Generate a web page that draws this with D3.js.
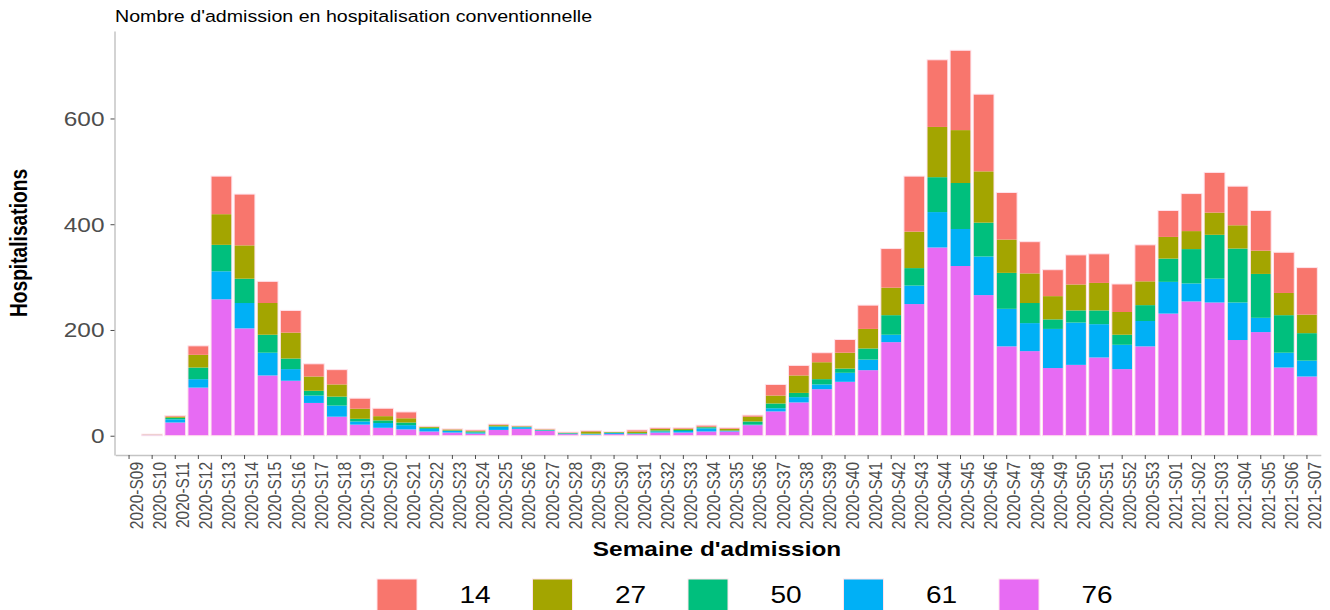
<!DOCTYPE html>
<html>
<head>
<meta charset="utf-8">
<script src="https://cdn.jsdelivr.net/npm/d3@7"></script>
<style>
  body { margin: 0; background: #fff; }
  text { font-family: "Liberation Sans", Arial, sans-serif; }
</style>
</head>
<body>
<script>
// weeks on the x axis
var weeks = ["2020-S09","2020-S10","2020-S11","2020-S12","2020-S13","2020-S14","2020-S15","2020-S16",
  "2020-S17","2020-S18","2020-S19","2020-S20","2020-S21","2020-S22","2020-S23","2020-S24","2020-S25",
  "2020-S26","2020-S27","2020-S28","2020-S29","2020-S30","2020-S31","2020-S32","2020-S33","2020-S34",
  "2020-S35","2020-S36","2020-S37","2020-S38","2020-S39","2020-S40","2020-S41","2020-S42","2020-S43",
  "2020-S44","2020-S45","2020-S46","2020-S47","2020-S48","2020-S49","2020-S50","2020-S51","2020-S52",
  "2020-S53","2021-S01","2021-S02","2021-S03","2021-S04","2021-S05","2021-S06","2021-S07"];

// admissions per departement
var d76 = [0,1,25,91,258,203,114,104,62,36,21,15,12,8,6,4,11,13,9,3,2,3,3,6,6,8,8,20,46,63,88,102,124,177,249,356,321,266,169,160,128,134,148,126,169,231,254,252,181,196,129,112];
var d61 = [0,0,6,16,53,48,43,22,14,21,6,9,8,5,3,2,6,3,1,1,1,2,1,2,3,6,1,1,6,10,9,17,20,14,35,67,70,73,71,53,74,80,63,46,48,60,34,45,71,27,28,30];
var d50 = [0,1,3,22,50,46,34,20,9,17,5,5,5,2,1,2,1,1,1,1,1,1,1,2,2,2,1,6,9,8,10,8,21,37,33,66,87,64,68,38,18,23,26,19,30,44,65,83,102,83,71,52];
var d27 = [0,0,2,24,58,63,60,49,27,23,19,8,8,2,2,1,2,1,1,1,4,1,3,3,2,1,3,9,15,33,32,30,37,52,69,95,100,97,63,56,44,49,52,43,45,41,34,42,44,44,42,35];
var d14 = [0,1,2,17,72,97,41,42,24,28,20,15,12,1,1,2,2,1,1,1,2,1,3,2,2,3,2,3,21,19,18,25,45,74,105,127,151,146,89,60,50,56,55,53,69,50,71,76,74,76,77,89];

var groups = ["14", "27", "50", "61", "76"];
var colours = ["#F8766D", "#A3A500", "#00BF7D", "#00B0F6", "#E76BF3"];
var yTicks = [0, 200, 400, 600];

var SX = 1.22; // picture is a little wider than tall

var rows = weeks.map(function(w, i) {
  return {week: w, "76": d76[i], "61": d61[i], "50": d50[i], "27": d27[i], "14": d14[i]};
});
var totals = rows.map(function(r) { return r["76"] + r["61"] + r["50"] + r["27"] + r["14"]; });

var colour = d3.scaleOrdinal().domain(groups).range(colours);

var svg = d3.select("body").append("svg")
            .attr("width", 1330)
            .attr("height", 610);
svg.append("rect").attr("width", 1330).attr("height", 610).attr("fill", "#fff");

var x = d3.scaleBand().domain(weeks)
          .range([115.2, 1320.8])
          .paddingInner(0.1)
          .paddingOuter(0.15);
var yMax = d3.max(totals);
var y = d3.scaleLinear().domain([-0.05 * yMax, 1.05 * yMax]).range([455, 31]);

// stacked bars, 76 at the bottom
var stack = d3.stack().keys(["76", "61", "50", "27", "14"]);
var layers = stack(rows);

svg.append("g").selectAll("g")
   .data(layers)
   .enter().append("g")
   .attr("fill", function(d) { return colour(d.key); })
   .selectAll("rect")
   .data(function(d) { return d; })
   .enter().append("rect")
   .attr("x", function(d) { return x(d.data.week); })
   .attr("width", x.bandwidth())
   .attr("y", function(d) { return y(d[1]); })
   .attr("height", function(d) { return Math.max(0, y(d[0]) - y(d[1])); });

// light outline round each bar
svg.append("g").selectAll("rect")
   .data(rows.filter(function(r, i) { return totals[i] > 0; }))
   .enter().append("rect")
   .attr("x", function(d) { return x(d.week); })
   .attr("width", x.bandwidth())
   .attr("y", function(d) { return y(d["76"] + d["61"] + d["50"] + d["27"] + d["14"]); })
   .attr("height", function(d) { return y(0) - y(d["76"] + d["61"] + d["50"] + d["27"] + d["14"]); })
   .attr("fill", "none")
   .attr("stroke", "#ffe3ec")
   .attr("stroke-width", 1);

// y axis
var yAxis = svg.append("g")
               .attr("transform", "translate(114.5,0)")
               .call(d3.axisLeft(y).tickValues(yTicks).tickSize(4).tickSizeOuter(0).tickFormat(d3.format("d")));
yAxis.select(".domain").attr("stroke", "#c4c4c4").attr("stroke-width", 1.5);
yAxis.selectAll(".tick line").attr("stroke", "#4d4d4d");
yAxis.selectAll(".tick text")
     .attr("x", null).attr("dy", null)
     .attr("transform", "translate(-10,7) scale(" + SX + ",1)")
     .attr("text-anchor", "end")
     .attr("fill", "#4d4d4d")
     .style("font-size", "20px");

// x axis
var xAxis = svg.append("g")
               .attr("transform", "translate(0,455)")
               .call(d3.axisBottom(x).tickSize(4).tickSizeOuter(0));
xAxis.select(".domain").attr("stroke", "#c4c4c4").attr("stroke-width", 1.5);
xAxis.selectAll(".tick line").attr("stroke", "#4d4d4d");
xAxis.selectAll(".tick text")
     .attr("x", 0).attr("y", 11.3).attr("dy", null)
     .attr("transform", "translate(0,7) scale(" + SX + ",1) rotate(-90)")
     .attr("text-anchor", "end")
     .attr("fill", "#4d4d4d")
     .style("font-size", "15.5px");

// titles
svg.append("text")
   .attr("transform", "translate(115,22) scale(" + SX + ",1)")
   .style("font-size", "16.1px")
   .attr("fill", "#000")
   .text("Nombre d'admission en hospitalisation conventionnelle");

svg.append("text")
   .attr("transform", "translate(27,243) scale(" + SX + ",1) rotate(-90)")
   .attr("text-anchor", "middle")
   .style("font-size", "19.2px")
   .style("font-weight", "bold")
   .text("Hospitalisations");

svg.append("text")
   .attr("transform", "translate(717,556) scale(" + SX + ",1)")
   .attr("text-anchor", "middle")
   .style("font-size", "20px")
   .style("font-weight", "bold")
   .text("Semaine d'admission");

// legend
var legend = svg.append("g").selectAll("g")
                .data(groups)
                .enter().append("g")
                .attr("transform", function(d, i) { return "translate(" + (377 + i * 155.5) + ",579)"; });
legend.append("rect")
      .attr("width", 40).attr("height", 40)
      .attr("fill", function(d) { return colour(d); })
      .attr("stroke", "#ffe3ec").attr("stroke-width", 1);
legend.append("text")
      .attr("transform", "translate(98,24) scale(" + SX + ",1)")
      .attr("text-anchor", "middle")
      .style("font-size", "23px")
      .attr("fill", "#000")
      .text(function(d) { return d; });
</script>
</body>
</html>
